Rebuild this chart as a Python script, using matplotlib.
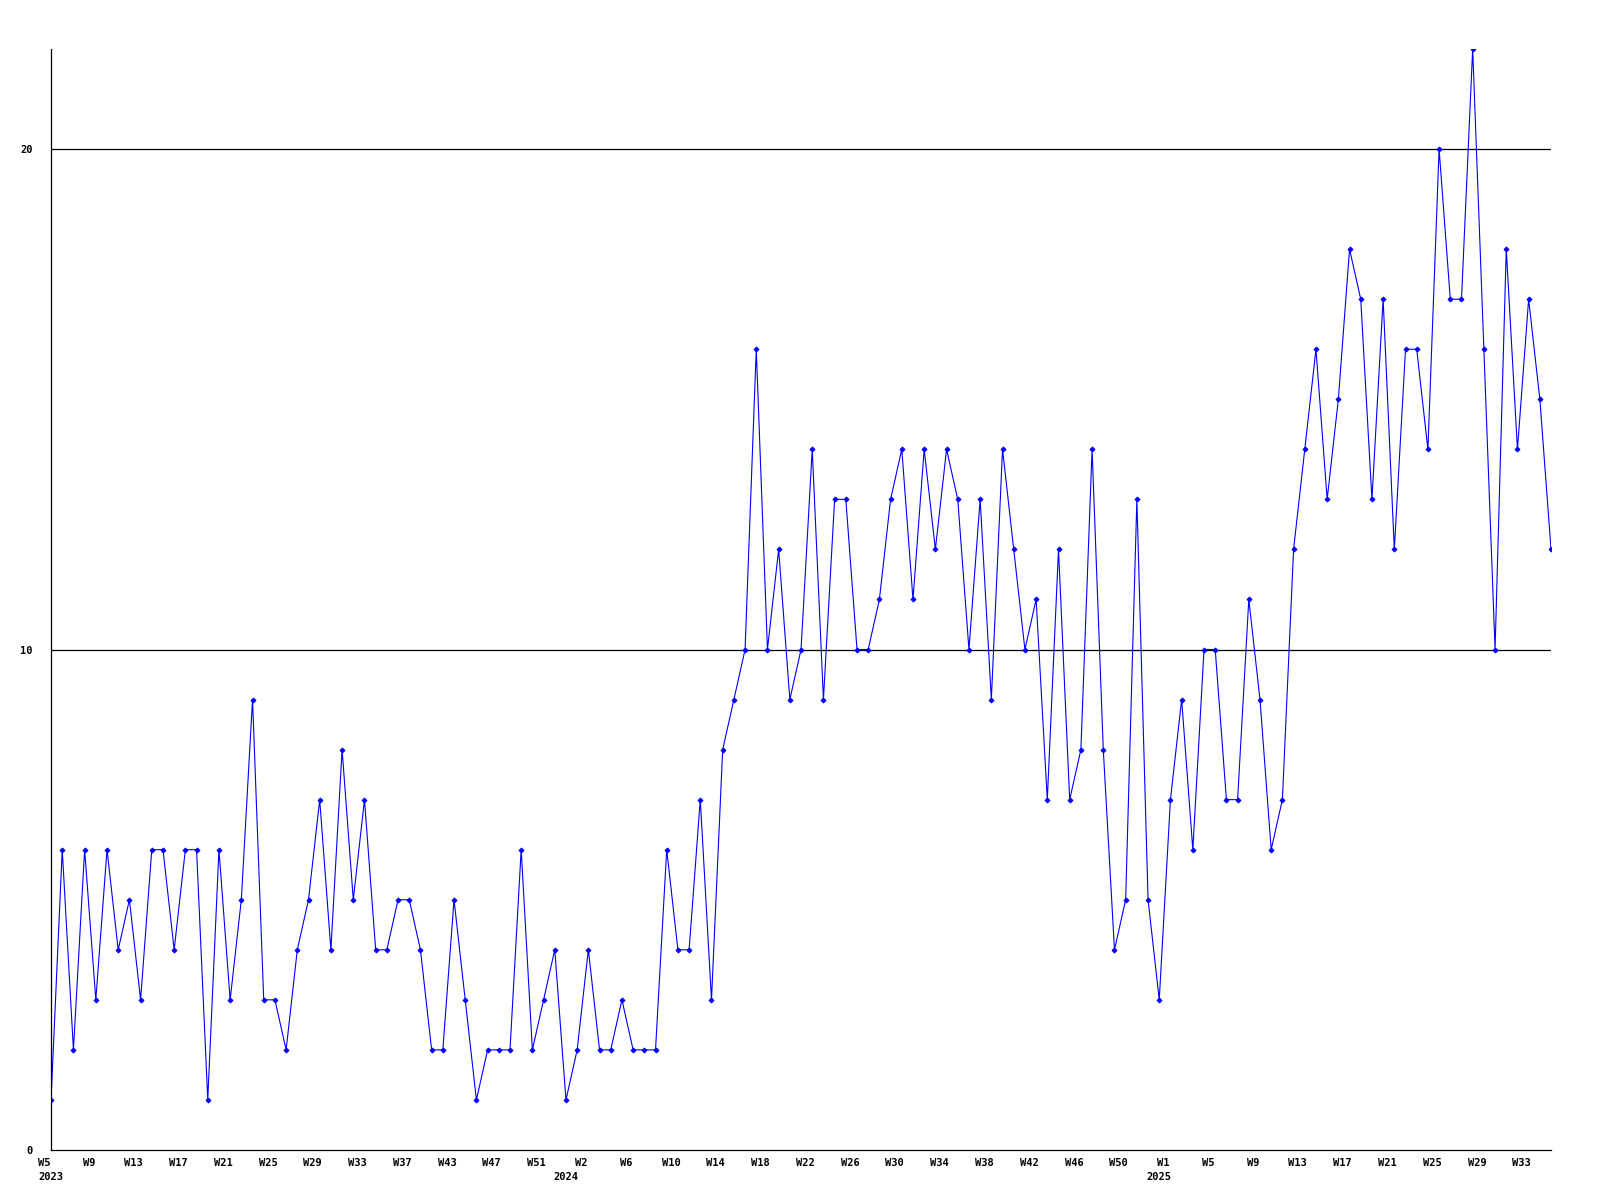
### ---- Weekly counts line chart (2023 W5 - 2025 W35)
import matplotlib
matplotlib.use("Agg")
import matplotlib.pyplot as plt
import matplotlib.transforms as mtransforms
import numpy as np

### ---- Data
counts_2023 = [1, 6, 2, 6, 3, 6, 4, 5, 3, 6, 6, 4, 6, 6, 1, 6, 3, 5, 9, 3,
               3, 2, 4, 5, 7, 4, 8, 5, 7, 4, 4, 5, 5, 4, 2, 2, 5, 3, 1, 2,
               2, 2, 6, 2, 3, 4, 1, 2]
counts_2024 = [4, 2, 2, 3, 2, 2, 2, 6, 4, 4, 7, 3, 8, 9, 10, 16, 10, 12, 9, 10,
               14, 9, 13, 13, 10, 10, 11, 13, 14, 11, 14, 12, 14, 13, 10, 13, 9, 14, 12, 10,
               11, 7, 12, 7, 8, 14, 8, 4, 5, 13, 5, 3]
counts_2025 = [7, 9, 6, 10, 10, 7, 7, 11, 9, 6, 7, 12, 14, 16, 13, 15, 18, 17, 13, 17,
               12, 16, 16, 14, 20, 17, 17, 22, 16, 10, 18, 14, 17, 15, 12]

counts = counts_2023 + counts_2024 + counts_2025

week_labels = ["W5", "W9", "W13", "W17", "W21", "W25", "W29", "W33", "W37", "W43",
               "W47", "W51", "W2", "W6", "W10", "W14", "W18", "W22", "W26", "W30",
               "W34", "W38", "W42", "W46", "W50", "W1", "W5", "W9", "W13", "W17",
               "W21", "W25", "W29", "W33"]
year_labels = ["2023", "2024", "2025"]
year_pos = [0, 46, 99]

### ---- Plot
fig = plt.figure(figsize=(16, 12), dpi=100)
ax = fig.add_axes([0.0319, 0.0417, 0.9375, 0.9175])

x = np.arange(len(counts))
ax.plot(x, counts, color="#0000ff", linewidth=0.8,
        marker="D", markersize=2.6, markeredgewidth=0.6)

ax.set_xlim(0, len(counts) - 1)
ax.set_ylim(0, 22)

# grid lines at 10 and 20
for yv in [10, 20]:
    ax.axhline(yv, color="black", linewidth=0.9, zorder=0)

for side in ["top", "right"]:
    ax.spines[side].set_visible(False)
for side in ["left", "bottom"]:
    ax.spines[side].set_linewidth(0.9)

mono = dict(family="DejaVu Sans Mono", weight="bold", size=7.5)

ax.set_yticks([0, 10, 20])
ax.set_yticklabels(["0", "10", "20"], **mono)
ax.tick_params(axis="y", length=0, pad=13)

ax.set_xticks(np.arange(0, len(counts), 4)[:len(week_labels)])
ax.set_xticklabels(week_labels, **mono)
ax.tick_params(axis="x", length=0, pad=6)
shift = mtransforms.ScaledTranslation(-7 / 100, 0, fig.dpi_scale_trans)
for lab in ax.get_xticklabels():
    lab.set_transform(lab.get_transform() + shift)

# year labels under the week labels
trans = mtransforms.blended_transform_factory(ax.transData, ax.transAxes)
for lab, pos in zip(year_labels, year_pos):
    ax.text(pos, -0.0245, lab, transform=trans, ha="center", va="center", **mono)

fig.savefig("out.png", dpi=100)
